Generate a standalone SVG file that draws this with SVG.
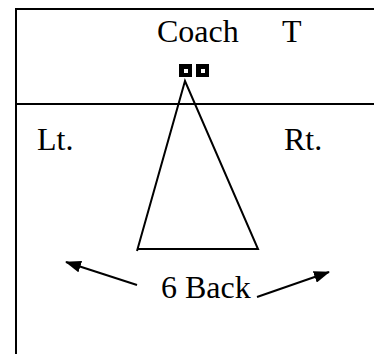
<svg xmlns="http://www.w3.org/2000/svg" width="374" height="354" viewBox="0 0 374 354">
<defs>
<style>
.t{font-family:"Liberation Serif","Times New Roman",serif;font-size:32px;fill:#000}
.ln{stroke:#000;stroke-width:2;fill:none}
</style>
<marker id="ah" viewBox="0 0 16 12" refX="15" refY="6" markerWidth="16" markerHeight="12" markerUnits="userSpaceOnUse" orient="auto">
<path d="M0,0 L16,6 L0,12 z" fill="#000"/>
</marker>
</defs>
<rect width="374" height="354" fill="#fff"/>
<g id="frame">
<path class="ln" d="M16,354 V9 H374"/>
<path class="ln" d="M16,104 H374"/>
</g>
<g id="coach">
<text class="t" x="157" y="42">Coach</text>
<rect x="179" y="64" width="13" height="13" fill="#000"/>
<rect x="184" y="69" width="4" height="4" fill="#fff"/>
<rect x="196" y="64" width="13" height="13" fill="#000"/>
<rect x="201" y="69" width="4" height="4" fill="#fff"/>
</g>
<g id="t"><text class="t" x="282" y="42">T</text></g>
<g id="lt"><text class="t" x="37" y="150">Lt.</text></g>
<g id="rt"><text class="t" x="284" y="150">Rt.</text></g>
<g id="triangle"><path class="ln" d="M137,251 L185,81 L258,249 H137"/></g>
<g id="back"><text class="t" x="161" y="298">6 Back</text></g>
<g id="connectors">
<path class="ln" d="M137,285 L66,262" marker-end="url(#ah)"/>
<path class="ln" d="M257,297 L329,272" marker-end="url(#ah)"/>
</g>
</svg>
